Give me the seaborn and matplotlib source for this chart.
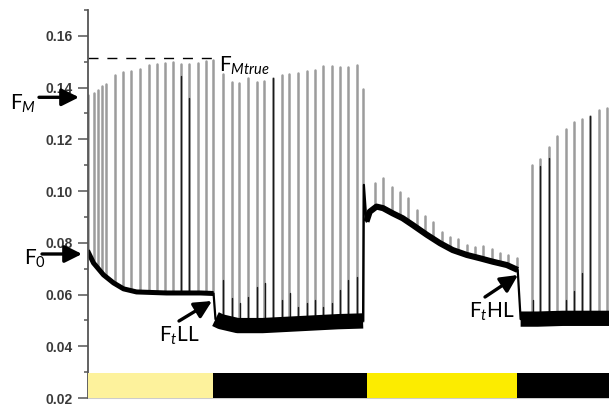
import numpy as np
import pandas as pd
import matplotlib
matplotlib.use("Agg")
import matplotlib.pyplot as plt
import seaborn as sns

# ---------------- data (time in min, fluorescence in a.u.) ----------------
# steady-state fluorescence trace, per light phase
ll_t = [0.0, 0.72, 1.92, 3.12, 4.32, 5.88, 9.48, 13.57, 15.12]
ll_F = [0.0770, 0.0722, 0.0676, 0.0645, 0.0622, 0.0610, 0.0606, 0.0606, 0.0604]
dark1_t = [15.35, 16.0, 18.0, 21.0, 24.0, 27.0, 30.0, 33.05]
dark1_F = [0.0505, 0.0495, 0.0480, 0.0480, 0.0485, 0.0490, 0.0495, 0.0498]
hl_onset_t = [33.15]
hl_onset_F = [0.1024]
hl_t = [33.46, 33.85, 34.66, 35.45, 36.6, 37.8, 39.0, 40.7, 42.3,
        43.8, 45.5, 47.1, 48.6, 50.3, 51.6]
hl_F = [0.0882, 0.0920, 0.0940, 0.0934, 0.0914, 0.0895, 0.0869,
        0.0831, 0.0798, 0.0772, 0.0753, 0.0740, 0.0727, 0.0714, 0.0695]
dark2_t = [51.95, 54.0, 57.0, 60.0, 62.6]
dark2_F = [0.0505, 0.0505, 0.0508, 0.0508, 0.0508]

# saturating pulses: time and maximal fluorescence
ll_pulse_t = [0.0, 0.72, 1.2, 1.72, 2.24, 3.24, 4.2, 5.2, 6.24, 7.32, 8.28, 9.24,
              10.2, 11.2, 12.2, 13.2, 14.2, 15.1]
ll_pulse_F = [0.1372, 0.1380, 0.1392, 0.1405, 0.1415, 0.1448, 0.1462, 0.1466, 0.1472,
              0.1486, 0.1491, 0.1497, 0.1499, 0.1492, 0.1492, 0.1496, 0.1504, 0.1507]
dark1_pulse_t = [16.2, 17.3, 18.2, 19.2, 20.3, 21.2, 22.2, 23.3, 24.2, 25.2, 26.3,
                 27.3, 28.2, 29.3, 30.3, 31.2, 32.3, 33.0]
dark1_pulse_F = [0.1453, 0.1423, 0.1417, 0.1436, 0.1423, 0.1427, 0.1436, 0.1449, 0.1452,
                 0.1458, 0.1465, 0.1469, 0.1484, 0.1484, 0.1481, 0.1480, 0.1488, 0.1393]
hl_pulse_t = [34.5, 35.5, 36.5, 37.5, 38.4, 39.5, 40.5, 41.4, 42.5, 43.5, 44.4,
              45.5, 46.5, 47.4, 48.5, 49.5, 50.4, 51.5]
hl_pulse_F = [0.1030, 0.1050, 0.1017, 0.0998, 0.0972, 0.0927, 0.0904, 0.0882, 0.0843,
              0.0824, 0.0814, 0.0792, 0.0783, 0.0788, 0.0775, 0.0759, 0.0753, 0.0740]
dark2_pulse_t = [53.3, 54.3, 55.3, 56.3, 57.4, 58.3, 59.3, 60.3, 61.3, 62.3]
dark2_pulse_F = [0.1101, 0.1124, 0.1172, 0.1211, 0.1239, 0.1266, 0.1279, 0.1291,
                 0.1314, 0.1320]

# darker (black) portions of some pulse records
dark_mark_t = [11.2, 12.2, 16.3, 17.3, 18.3, 19.3, 20.3, 21.3, 22.2, 23.3, 24.3,
               25.3, 26.3, 27.3, 28.3, 29.3, 30.3, 31.3, 32.3,
               53.4, 54.3, 55.3, 57.4, 58.3, 59.3, 60.3]
dark_mark_F = [0.1445, 0.1361, 0.0656, 0.0587, 0.0567, 0.0590, 0.0629, 0.0645, 0.1436,
               0.0579, 0.0606, 0.0552, 0.0567, 0.0579, 0.0552, 0.0567, 0.0618, 0.0656,
               0.0668, 0.0579, 0.1095, 0.1128, 0.0579, 0.0615, 0.0683, 0.1291]

fm_true = 0.1513
fm_true_span = [0.0, 15.6]

# actinic light regime (bar at the bottom)
light_start = [0.0, 15.0, 33.5, 51.5]
light_end = [15.0, 33.5, 51.5, 63.0]
light_color = ["#fdf29c", "#000000", "#fcec00", "#000000"]

yticks = [0.02, 0.04, 0.06, 0.08, 0.10, 0.12, 0.14, 0.16]
ytick_labels = ["0.02", "0.04", "0.06", "0.08", "0.10", "0.12", "0.14", "0.16"]

# ---------------- style ----------------
sns.set_style("ticks")
plt.rcParams.update({
    "font.family": ["Lato", "DejaVu Sans"],
    "mathtext.fontset": "custom",
    "mathtext.rm": "Lato",
    "mathtext.it": "Lato:italic",
    "mathtext.bf": "Lato:bold",
})

W, H = 609, 409
fig = plt.figure(figsize=(W / 100, H / 100), dpi=100)
ax = fig.add_axes([87.5 / W, (H - 398) / H, (W - 87.5) / W, 388 / H])

trace_t = np.array(ll_t + dark1_t + hl_onset_t + hl_t + dark2_t)
trace_F = np.array(ll_F + dark1_F + hl_onset_F + hl_F + dark2_F)

pulse_t = np.array(ll_pulse_t + dark1_pulse_t + hl_pulse_t + dark2_pulse_t)
pulse_F = np.array(ll_pulse_F + dark1_pulse_F + hl_pulse_F + dark2_pulse_F)
pulse_base = np.interp(pulse_t, trace_t, trace_F)

df_p = pd.DataFrame({
    "t": np.repeat(pulse_t, 2),
    "F": np.column_stack([pulse_base, pulse_F]).ravel(),
    "pulse": np.repeat(np.arange(len(pulse_t)), 2),
})
sns.lineplot(data=df_p, x="t", y="F", units="pulse", estimator=None, sort=False,
             color="#9c9c9c", lw=1.8, ax=ax, legend=False)

dm_t = np.array(dark_mark_t)
dm_base = np.interp(dm_t, trace_t, trace_F)
df_d = pd.DataFrame({
    "t": np.repeat(dm_t, 2),
    "F": np.column_stack([dm_base, np.array(dark_mark_F)]).ravel(),
    "mark": np.repeat(np.arange(len(dm_t)), 2),
})
sns.lineplot(data=df_d, x="t", y="F", units="mark", estimator=None, sort=False,
             color="#1a1a1a", lw=1.0, ax=ax, legend=False)

# whole trace as a thin line (light transitions), then phases with noise thickness
sns.lineplot(x=trace_t, y=trace_F, color="black", lw=1.6, sort=False,
             estimator=None, ax=ax)
for tt, ff, lw in [(ll_t, ll_F, 3.6), (dark1_t, dark1_F, 11.0),
                   (hl_t, hl_F, 4.4), (dark2_t, dark2_F, 11.0)]:
    sns.lineplot(x=tt, y=ff, color="black", lw=lw, sort=False, estimator=None,
                 ax=ax, solid_capstyle="butt", solid_joinstyle="round")

# F_Mtrue dashed line
ax.plot(fm_true_span, [fm_true, fm_true], color="black", lw=1.0,
        dashes=(7.2, 6.4), clip_on=False)

# light bars
ax.bar(x=light_start, height=0.0096,
       width=np.array(light_end) - np.array(light_start), bottom=0.02,
       align="edge", color=light_color, linewidth=0, zorder=3)

ax.set_xlim(0, 62.55)
ax.set_ylim(0.02, 0.17)
ax.set_xticks([])
ax.set_xlabel("")
ax.set_ylabel("")
ax.set_yticks(yticks)
ax.set_yticklabels(ytick_labels, fontfamily="Liberation Sans", fontweight="bold",
                   fontsize=10, color="#3a3a3a")
ax.set_yticks(np.arange(0.03, 0.171, 0.02), minor=True)
ax.tick_params(axis="y", which="major", length=7, width=1.1, pad=3.6, color="#555555")
ax.tick_params(axis="y", which="minor", length=3.2, width=1.1, color="#555555")
for s in ["top", "right"]:
    ax.spines[s].set_visible(False)
ax.spines["left"].set_color("#555555")
ax.spines["left"].set_linewidth(1.3)
ax.spines["bottom"].set_color("#cccccc")
ax.spines["bottom"].set_linewidth(0.8)

# ---------------- annotations (figure-pixel placement) ----------------
def fpx(x, y):
    return (x, H - y)

arrow = dict(arrowstyle="-|>", color="black", lw=2.4, mutation_scale=26,
             shrinkA=0, shrinkB=0)
txt = dict(fontsize=15, color="black", ha="left", va="baseline")

fig.text(10 / W, (H - 110) / H, r"F$_{\mathit{M}}$", **txt)
ax.annotate("", xy=fpx(79, 97.3), xytext=fpx(39, 97.3), xycoords="figure pixels",
            textcoords="figure pixels", arrowprops=arrow, annotation_clip=False)

fig.text(24 / W, (H - 265) / H, r"F$_{0}$", **txt)
ax.annotate("", xy=fpx(82, 254), xytext=fpx(42, 254), xycoords="figure pixels",
            textcoords="figure pixels", arrowprops=arrow, annotation_clip=False)

fig.text(219 / W, (H - 72) / H, r"F$_{\mathit{Mtrue}}$", **txt)

fig.text(159 / W, (H - 342) / H, r"F$_{\mathit{t}}$LL", **txt)
ax.annotate("", xy=fpx(212, 301), xytext=fpx(179, 321), xycoords="figure pixels",
            textcoords="figure pixels", arrowprops=arrow, annotation_clip=False)

fig.text(469 / W, (H - 318) / H, r"F$_{\mathit{t}}$HL", **txt)
ax.annotate("", xy=fpx(518, 275), xytext=fpx(485, 297), xycoords="figure pixels",
            textcoords="figure pixels", arrowprops=arrow, annotation_clip=False)

fig.savefig("out.png", dpi=100)
